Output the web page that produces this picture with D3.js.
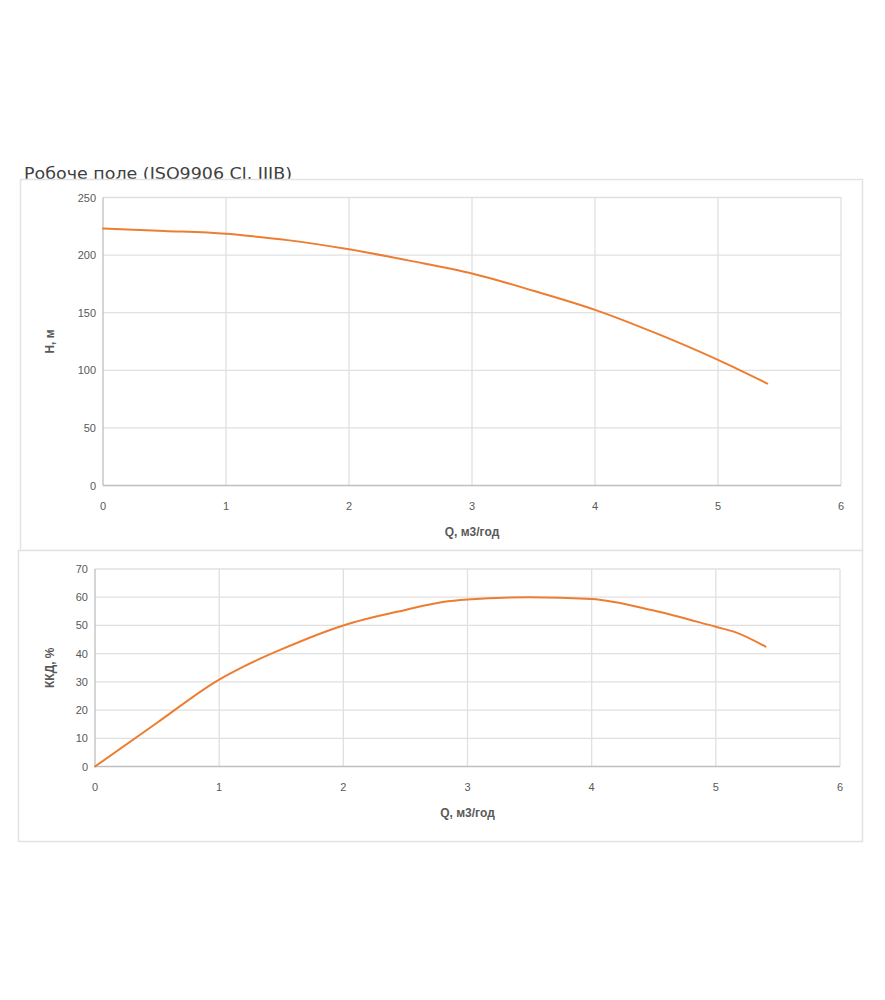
<!DOCTYPE html>
<html>
<head>
<meta charset="utf-8">
<script src="https://cdn.jsdelivr.net/npm/d3@7"></script>
<style>
  body { margin: 0; background: #fff; }
  svg { display: block; }
</style>
</head>
<body>
<div id="chart"></div>
<script>
// head curve H(Q)
var headQ = [0, 0.5, 1, 1.2, 1.5, 2, 2.5, 3, 3.5, 4, 4.5, 5, 5.4];
var headH = [223, 221, 218.5, 216.5, 213, 205, 195, 184, 169, 152.5, 132, 109, 88.5];

// efficiency curve
var effQ = [0, 0.5, 1, 1.2, 1.5, 2, 2.5, 2.8, 3, 3.5, 4, 4.5, 5, 5.15, 5.4];
var effE = [0, 15.5, 30.8, 35.5, 41.5, 50, 55.5, 58.3, 59.2, 60, 59.4, 55.3, 49.5, 47.7, 42.5];

var xTicks = [0, 1, 2, 3, 4, 5, 6];
var headTicks = [0, 50, 100, 150, 200, 250];
var effTicks = [0, 10, 20, 30, 40, 50, 60, 70];

var W = 885, H = 1000;
var svg = d3.select('#chart').append('svg')
  .attr('width', W).attr('height', H);

// title sits behind the top frame so its bottom gets cut like the original
svg.append('text')
  .attr('x', 24).attr('y', 178.5)
  .attr('font-family', 'DejaVu Sans, Verdana, sans-serif')
  .attr('font-size', 15)
  .attr('textLength', 268)
  .attr('lengthAdjust', 'spacingAndGlyphs')
  .attr('fill', '#404040')
  .text('Робоче поле (ISO9906 Cl. IIIB)');

function panel(cfg) {
  // outer frame
  svg.append('rect')
    .attr('x', cfg.box[0] + 0.5).attr('y', cfg.box[1] + 0.5)
    .attr('width', cfg.box[2] - cfg.box[0]).attr('height', cfg.box[3] - cfg.box[1])
    .attr('fill', '#fff').attr('stroke', '#e3e3e3').attr('stroke-width', 1.5);

  var x = d3.scaleLinear().domain([0, 6]).range([cfg.left, cfg.right]);
  var y = d3.scaleLinear().domain(cfg.yDomain).range([cfg.bottom, cfg.top]);
  var g = svg.append('g');

  // gridlines
  g.selectAll('.vg').data(xTicks.slice(1)).enter().append('line')
    .attr('x1', function(d) { return x(d); }).attr('x2', function(d) { return x(d); })
    .attr('y1', cfg.top).attr('y2', cfg.bottom)
    .attr('stroke', '#e0e0e0').attr('stroke-width', 1.3);
  g.selectAll('.hg').data(cfg.yTicks.slice(1)).enter().append('line')
    .attr('x1', cfg.left).attr('x2', cfg.right)
    .attr('y1', function(d) { return y(d); }).attr('y2', function(d) { return y(d); })
    .attr('stroke', '#e0e0e0').attr('stroke-width', 1.3);

  // axis lines
  g.append('line').attr('x1', cfg.left).attr('x2', cfg.left)
    .attr('y1', cfg.top).attr('y2', cfg.bottom)
    .attr('stroke', '#bfbfbf').attr('stroke-width', 1.3);
  g.append('line').attr('x1', cfg.left).attr('x2', cfg.right)
    .attr('y1', cfg.bottom).attr('y2', cfg.bottom)
    .attr('stroke', '#bfbfbf').attr('stroke-width', 1.3);

  // tick labels
  var font = 'Liberation Sans, Arial, sans-serif';
  g.selectAll('.yl').data(cfg.yTicks).enter().append('text')
    .attr('x', cfg.left - 7).attr('y', function(d) { return y(d) + 4; })
    .attr('text-anchor', 'end').attr('font-family', font).attr('font-size', 11)
    .attr('fill', '#595959').text(function(d) { return d; });
  g.selectAll('.xl').data(xTicks).enter().append('text')
    .attr('x', function(d) { return x(d); }).attr('y', cfg.bottom + 24)
    .attr('text-anchor', 'middle').attr('font-family', font).attr('font-size', 11)
    .attr('fill', '#595959').text(function(d) { return d; });

  // axis titles
  g.append('text')
    .attr('x', x(3)).attr('y', cfg.bottom + 50)
    .attr('text-anchor', 'middle').attr('font-family', font).attr('font-size', 12)
    .attr('font-weight', 'bold').attr('fill', '#595959').text('Q, м3/год');
  g.append('text')
    .attr('transform', 'translate(' + cfg.yTitleX + ',' + ((cfg.top + cfg.bottom) / 2) + ') rotate(-90)')
    .attr('text-anchor', 'middle').attr('font-family', font).attr('font-size', 12)
    .attr('font-weight', 'bold').attr('fill', '#595959').text(cfg.yTitle);

  // curve
  var pts = cfg.xs.map(function(v, i) { return [v, cfg.ys[i]]; });
  g.append('path')
    .datum(pts)
    .attr('d', d3.line()
      .x(function(d) { return x(d[0]); })
      .y(function(d) { return y(d[1]); })
      .curve(d3.curveMonotoneX))
    .attr('fill', 'none').attr('stroke', '#ED7D31').attr('stroke-width', 2)
    .attr('stroke-linecap', 'round');
}

panel({
  box: [20, 179, 862, 550],
  left: 103, right: 841, top: 197.5, bottom: 485.5,
  yDomain: [0, 250], yTicks: headTicks,
  yTitle: 'H, м', yTitleX: 54,
  xs: headQ, ys: headH
});

panel({
  box: [18, 550, 862, 841],
  left: 95, right: 840, top: 569, bottom: 766.5,
  yDomain: [0, 70], yTicks: effTicks,
  yTitle: 'ККД, %', yTitleX: 54,
  xs: effQ, ys: effE
});
</script>
</body>
</html>
